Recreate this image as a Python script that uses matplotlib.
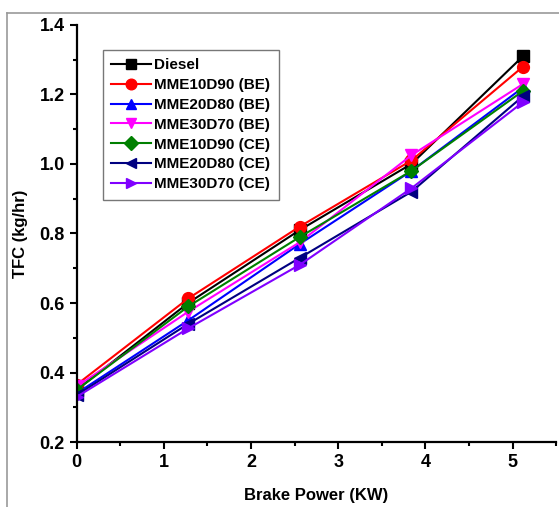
import numpy as np
import matplotlib.pyplot as plt
from matplotlib.lines import Line2D
from matplotlib.ticker import MultipleLocator

plt.rcParams['font.family'] = ['Liberation Sans', 'DejaVu Sans']
plt.rcParams['font.weight'] = 'bold'

power = [0, 1.28, 2.56, 3.84, 5.12]
diesel = [0.35, 0.60, 0.81, 1.00, 1.31]
mme10_be = [0.365, 0.613, 0.82, 1.01, 1.28]
mme20_be = [0.34, 0.55, 0.77, 0.98, 1.22]
mme30_be = [0.36, 0.575, 0.775, 1.025, 1.23]
mme10_ce = [0.35, 0.59, 0.79, 0.98, 1.21]
mme20_ce = [0.335, 0.54, 0.73, 0.92, 1.195]
mme30_ce = [0.33, 0.527, 0.71, 0.93, 1.178]

series = [
    ("Diesel", diesel, 'black', 's'),
    ("MME10D90 (BE)", mme10_be, 'red', 'o'),
    ("MME20D80 (BE)", mme20_be, 'blue', '^'),
    ("MME30D70 (BE)", mme30_be, 'magenta', 'v'),
    ("MME10D90 (CE)", mme10_ce, 'green', 'D'),
    ("MME20D80 (CE)", mme20_ce, 'navy', '<'),
    ("MME30D70 (CE)", mme30_ce, '#8000ff', '>'),
]

fig = plt.figure(figsize=(5.59, 5.07), dpi=100)
ax = fig.add_axes([0.137, 0.128, 0.858, 0.823])

for name, vals, col, mk in series:
    ms = 7.5 if mk == 'D' else 8.5
    ax.plot(power, vals, color=col, marker=mk, markersize=ms, linewidth=1.5, label=name)

ax.set_xlim(0, 5.5)
ax.set_ylim(0.2, 1.4)
ax.xaxis.set_major_locator(MultipleLocator(1))
ax.xaxis.set_minor_locator(MultipleLocator(0.5))
ax.yaxis.set_minor_locator(MultipleLocator(0.1))
ax.set_yticks(np.arange(0.2, 1.41, 0.2))
ax.set_yticklabels(['%.1f' % v for v in np.arange(0.2, 1.41, 0.2)])
ax.tick_params(which='major', direction='out', length=5, width=1.5, labelsize=13)
ax.tick_params(which='minor', direction='out', length=3, width=1.5)
for t in ax.get_xticklabels() + ax.get_yticklabels():
    t.set_fontweight('bold')

ax.spines['top'].set_visible(False)
ax.spines['right'].set_visible(False)
ax.spines['left'].set_linewidth(1.6)
ax.spines['bottom'].set_linewidth(1.6)

ax.set_xlabel("Brake Power (KW)", fontsize=12, fontweight='bold', labelpad=12)
ax.set_ylabel("TFC (kg/hr)", fontsize=12, fontweight='bold', labelpad=8)

leg = ax.legend(loc='upper left', bbox_to_anchor=(0.055, 0.94),
                prop={'weight': 'bold', 'size': 11}, frameon=True, fancybox=False,
                handlelength=2.6, handletextpad=0.2, labelspacing=0.38,
                borderpad=0.55, markerscale=0.9, borderaxespad=0)
leg.get_frame().set_edgecolor('#555555')
leg.get_frame().set_linewidth(1.0)

# grey outer frame
fig.add_artist(Line2D([7 / 559, 1], [1 - 13 / 507, 1 - 13 / 507], color='#999999', linewidth=1.2))
fig.add_artist(Line2D([7 / 559, 7 / 559], [0, 1 - 13 / 507], color='#999999', linewidth=1.2))

fig.savefig('out.png', dpi=100)
